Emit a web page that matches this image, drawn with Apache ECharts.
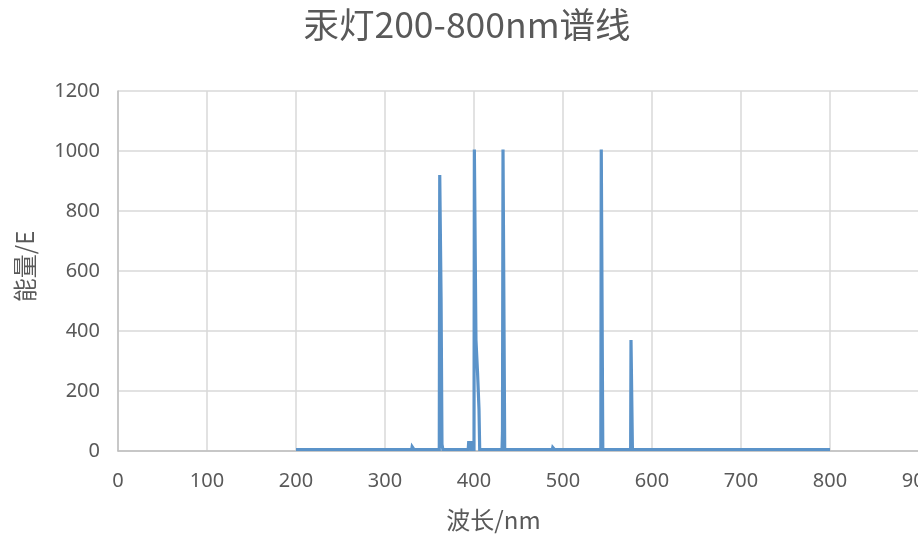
<!DOCTYPE html>
<html><head><meta charset="utf-8">
<script src="https://cdn.jsdelivr.net/npm/echarts@6/dist/echarts.min.js"></script>
<style>html,body{margin:0;padding:0;background:#fff}#c{width:918px;height:542px}</style>
</head><body><div id="c"></div>
<script>
const titleText = '汞灯200-800nm谱线';
const xName = '波长/nm';
const yName = '能量/E';
const wavelengths = [200, 330, 330.5, 332, 332.5, 361, 361.5, 362.6, 363, 363.6, 364, 364.5, 365, 393.5, 394, 396.5, 397, 400, 400.4, 401.8, 402.2, 403.6, 404, 405.2, 405.6, 406, 406.4, 431.5, 432, 432.6, 434, 434.5, 488, 488.5, 490, 490.5, 542.5, 543, 544.2, 544.7, 576, 576.4, 577.6, 578, 726, 727, 728, 762, 763, 764, 800];
const energies    = [5,   5,   14,    14,  5,     5,   920,   920,   510, 510,   22,  22,    5,   5,     28,  28,    5,   5,   1005,  1005,  370,   370,   260, 260,   140,   140, 5,     5,     62,  1005,  1005,5,     5,   12,    12,  5,     5,     1005,1005,  5,     5,   370,   370,   5,   5,   8,   5,   5,   8,   5,   5];
const xMin = 0, xMax = 900, xStep = 100;
const yMin = 0, yMax = 1200, yStep = 200;

const data = wavelengths.map((w,i)=>[w, energies[i]]);
const chart = echarts.init(document.getElementById('c'), null, {renderer:'canvas'});
const txt = '#595959';
const latin = '"Noto Sans","Noto Sans CJK SC",sans-serif';
const cjk = '"Noto Sans CJK SC",sans-serif';
chart.setOption({
  animation:false,
  backgroundColor:'#ffffff',
  title:{text:titleText,left:462,textAlign:'center',top:2,textStyle:{color:txt,fontSize:35.5,fontWeight:'normal',fontFamily:cjk}},
  grid:{left:118,right:-1,top:91,bottom:91,containLabel:false,outerBoundsMode:'none'},
  xAxis:{type:'value',min:xMin,max:xMax,interval:xStep,
    name:xName,nameLocation:'middle',nameGap:57,
    nameTextStyle:{color:txt,fontSize:24,fontFamily:cjk,padding:[0,50,0,0]},
    axisLine:{show:true,lineStyle:{color:'#bfbfbf',width:1.5}},
    axisTick:{show:false},
    axisLabel:{color:txt,fontSize:20,margin:20,fontFamily:latin,formatter:v=>String(v)},
    splitLine:{show:true,lineStyle:{color:'#d9d9d9',width:1.5}}},
  yAxis:{type:'value',min:yMin,max:yMax,interval:yStep,
    name:yName,nameLocation:'middle',nameGap:81,nameRotate:90,
    nameTextStyle:{color:txt,fontSize:24,fontFamily:cjk,padding:[0,0,0,9]},
    axisLine:{show:true,lineStyle:{color:'#bfbfbf',width:1.5}},
    axisTick:{show:false},
    axisLabel:{color:txt,fontSize:20,margin:18,fontFamily:latin,formatter:v=>String(v)},
    splitLine:{show:true,lineStyle:{color:'#d9d9d9',width:1.5}}},
  series:[{type:'line',data:data,showSymbol:false,symbol:'none',
    lineStyle:{color:'#5b93c9',width:3.2,join:'miter'},itemStyle:{color:'#5b93c9'}}]
});
</script></body></html>
